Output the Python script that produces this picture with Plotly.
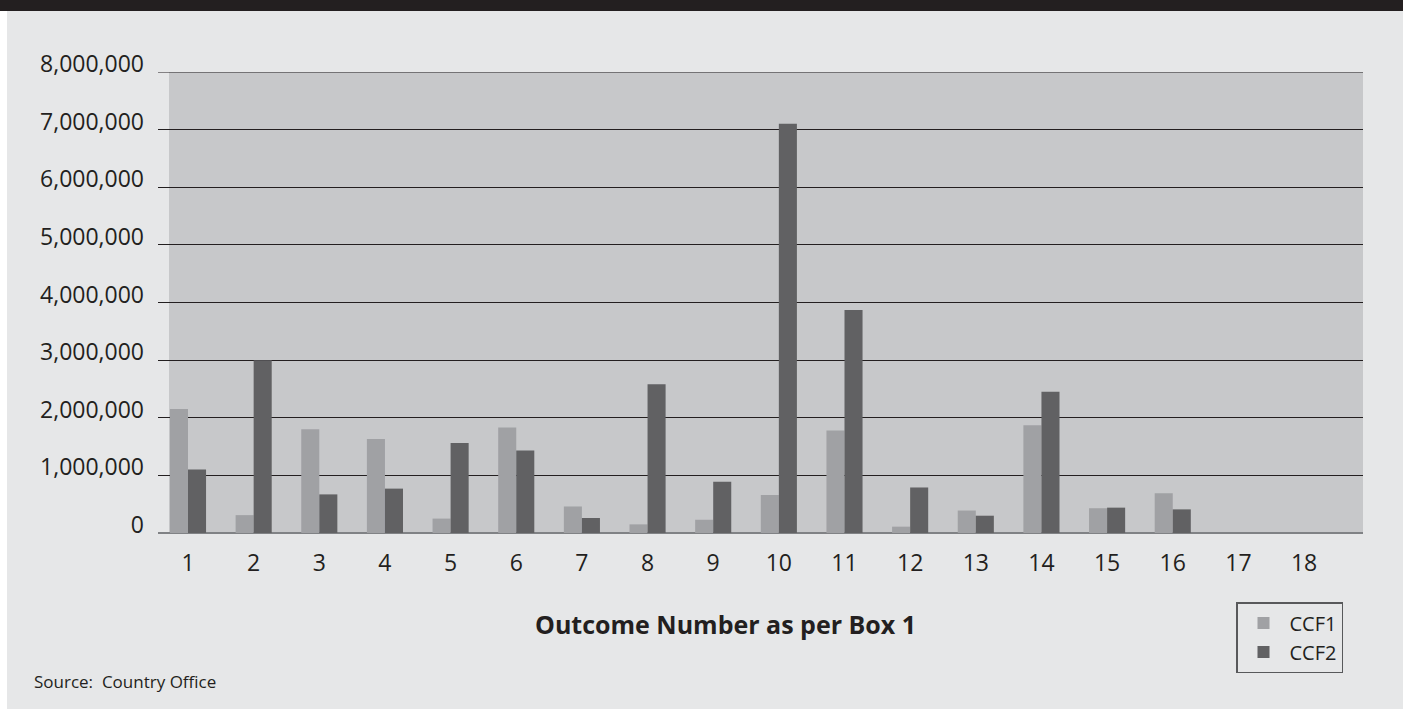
import plotly.graph_objects as go

# Funding per outcome (US$), first and second country cooperation frameworks
outcomes = [str(i) for i in range(1, 19)]
ccf1 = [2150000, 310000, 1800000, 1630000, 250000, 1830000, 460000, 150000, 230000,
        660000, 1780000, 110000, 390000, 1870000, 430000, 690000, 0, 0]
ccf2 = [1100000, 3000000, 670000, 770000, 1560000, 1430000, 260000, 2580000, 890000,
        7100000, 3870000, 790000, 300000, 2450000, 440000, 410000, 0, 0]
y_ticks = [0, 1000000, 2000000, 3000000, 4000000, 5000000, 6000000, 7000000, 8000000]

W, H = 1403, 709
L, R, T, B = 158, 40, 72, 176
TEXT = "#231f20"
PAGE = "#e6e7e8"
PANEL = "#c7c8ca"
FONT = "Open Sans"


def px_x(px):
    return (px - L) / (W - L - R)


def px_y(py):
    return (H - B - py) / (H - T - B)


fig = go.Figure()
fig.add_trace(go.Bar(name="CCF1", x=outcomes, y=ccf1,
                     marker=dict(color="#a0a1a4", line=dict(width=0))))
fig.add_trace(go.Bar(name="CCF2", x=outcomes, y=ccf2,
                     marker=dict(color="#616163", line=dict(width=0))))

shapes = [
    # grey panel behind the bars
    dict(type="rect", xref="paper", yref="paper", layer="below",
         x0=px_x(169), x1=1, y0=0, y1=1, fillcolor=PANEL, line=dict(width=0)),
    # top gridline at the axis maximum
    dict(type="line", xref="paper", yref="y", layer="below",
         x0=0, x1=1, y0=y_ticks[-1], y1=y_ticks[-1],
         line=dict(color=TEXT, width=1.2)),
    # dark header band
    dict(type="rect", xref="paper", yref="paper", layer="below",
         x0=px_x(0), x1=px_x(W), y0=px_y(11), y1=px_y(0),
         fillcolor=TEXT, line=dict(width=0)),
    # white margin strip on the left edge
    dict(type="rect", xref="paper", yref="paper", layer="below",
         x0=px_x(0), x1=px_x(7), y0=px_y(H), y1=px_y(11),
         fillcolor="#ffffff", line=dict(width=0)),
]

fig.update_layout(
    width=W, height=H,
    margin=dict(l=L, r=R, t=T, b=B),
    paper_bgcolor=PAGE,
    plot_bgcolor="rgba(0,0,0,0)",
    font=dict(family=FONT, color=TEXT),
    barmode="group",
    bargap=0.45,
    bargroupgap=0,
    shapes=shapes,
    showlegend=True,
    legend=dict(
        x=px_x(1236), y=px_y(602), xanchor="left", yanchor="top",
        bgcolor="rgba(0,0,0,0)", bordercolor="#58595b", borderwidth=1.5,
        font=dict(family=FONT, size=20, color=TEXT),
        itemwidth=42, tracegroupgap=6,
    ),
    annotations=[
        dict(text="<b>Outcome Number as per Box 1</b>", xref="paper", yref="paper",
             x=px_x(725), y=px_y(624), xanchor="center", yanchor="middle",
             showarrow=False, font=dict(family=FONT, size=25, color=TEXT)),
        dict(text="Source:  Country Office", xref="paper", yref="paper",
             x=px_x(32), y=px_y(681), xanchor="left", yanchor="middle",
             showarrow=False, font=dict(family=FONT, size=17, color=TEXT)),
    ],
)

fig.update_xaxes(
    type="category",
    range=[-0.457, 17.898],
    showgrid=False, showline=False, zeroline=False,
    ticks="", ticklabelstandoff=14,
    tickfont=dict(family=FONT, size=23, color=TEXT),
)

fig.update_yaxes(
    range=[0, 8000000],
    tickvals=y_ticks, tickformat=",",
    showgrid=True, gridcolor=TEXT, gridwidth=1,
    zeroline=True, zerolinecolor="#808285", zerolinewidth=2,
    showline=False, ticks="",
    ticklabelposition="outside", ticklabelstandoff=13, ticklabelshift=-8,
    tickfont=dict(family=FONT, size=23, color=TEXT),
)

fig.write_html("out.html")
